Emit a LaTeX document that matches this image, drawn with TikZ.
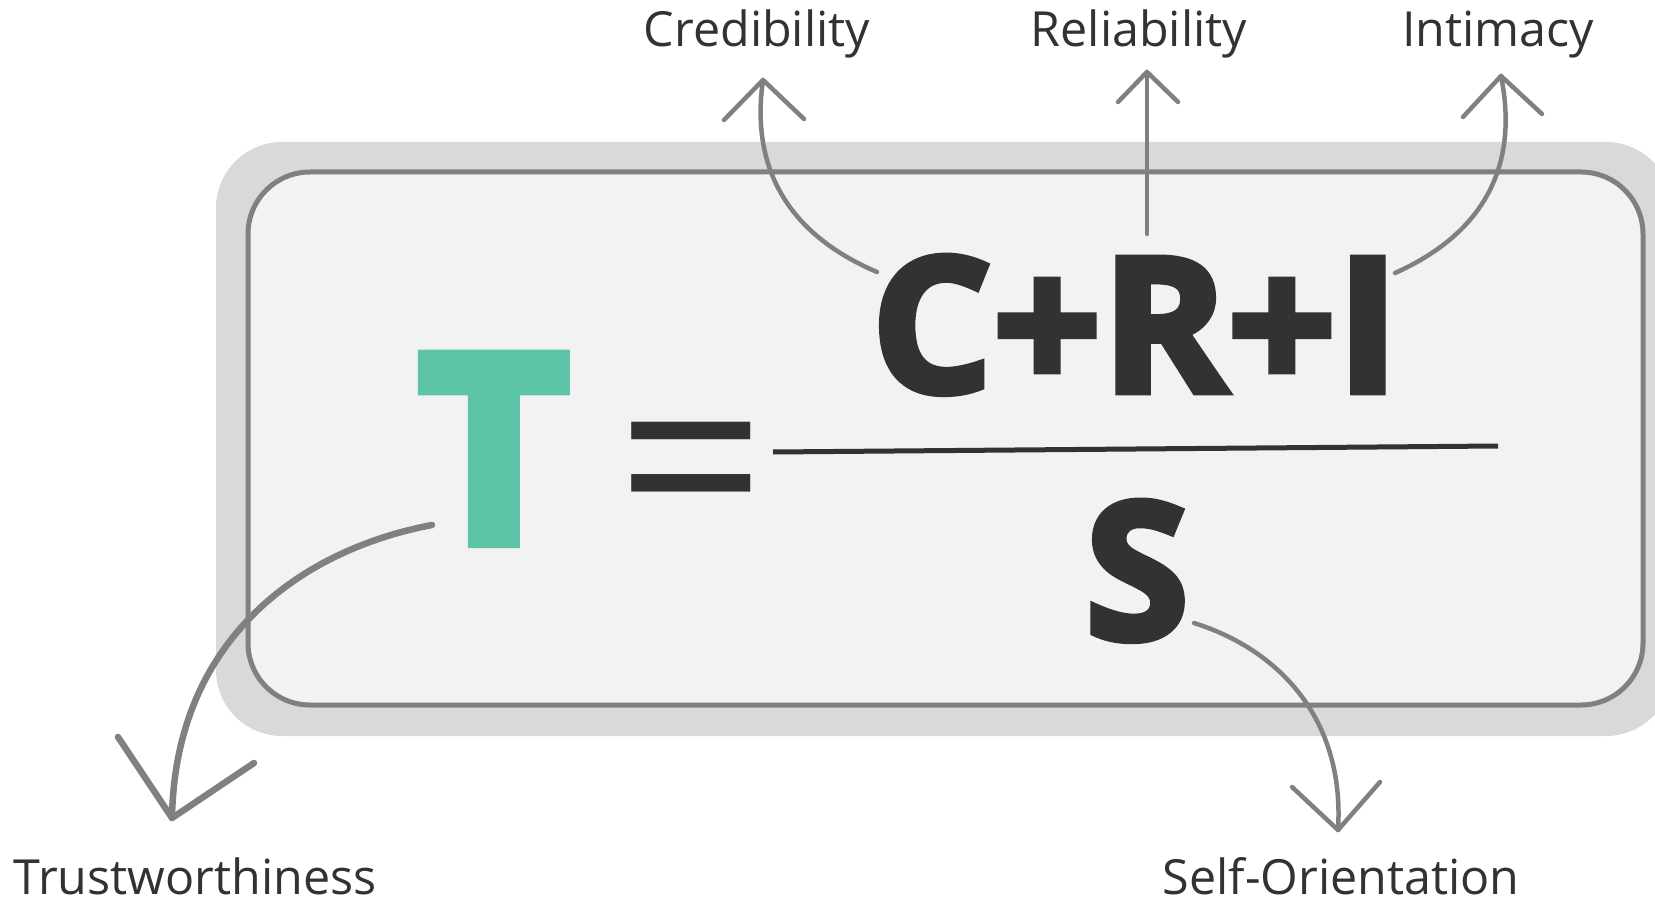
\documentclass[tikz,border=0pt]{standalone}
\usepackage{fontspec}
\setmainfont{Open Sans}
\newfontfamily\heavy{Open Sans}[BoldFeatures={FakeBold=3.5}]
\newfontfamily\heavier{Open Sans}[BoldFeatures={FakeBold=5}]
\usepackage{graphicx}
\definecolor{outergray}{HTML}{D9D9D9}
\definecolor{innerfill}{HTML}{F2F2F2}
\definecolor{linegray}{HTML}{808080}
\definecolor{darktext}{HTML}{333132}
\definecolor{tgreen}{HTML}{5EC4A7}
\begin{document}
\begin{tikzpicture}[x=1pt,y=-1pt,
  conn/.style={draw=linegray, line width=4.5pt, line cap=round, line join=round},
  lbl/.style={anchor=base, text=darktext, font=\fontsize{48.4}{58}\selectfont, inner sep=0pt, text depth=0pt},
  big/.style={inner sep=0pt, text=darktext}]
\useasboundingbox (0,0) rectangle (1655,904);
\begin{scope}
\clip (0,0) rectangle (1655,904);
\fill[outergray, rounded corners=66pt] (216,142) rectangle (1672,736);
\end{scope}
\draw[linegray, fill=innerfill, line width=5pt, rounded corners=62pt] (248,172) rectangle (1643,705);

% formula
\node[big, text=tgreen, anchor=base west] (tt) at (419,541.5) {\resizebox{149pt}{185pt}{\heavier\bfseries T}};
\node[big, anchor=base west] (eq) at (616,549) {\fontsize{262}{262}\selectfont =};
\node[big, anchor=base west] (num) at (871,392) {\resizebox{528pt}{136pt}{\heavy\bfseries C+R+I}};
\node[big, anchor=base] (den) at (1137,639) {\resizebox{104pt}{138pt}{\heavy\bfseries S}};
\coordinate (fl) at (773,452);
\coordinate (fr) at (1498,446);
\draw[darktext, line width=5pt] (fl) -- (fr);

% labels
\node[lbl] (cred) at (757,47) {Credibility};
\node[lbl] (reli) at (1139,47) {Reliability};
\node[lbl] (inti) at (1498,47) {Intimacy};
\node[lbl] (trust) at (195,894) {Trustworthiness};
\node[lbl] (self) at (1341,894) {Self-Orientation};

% connector end points
\coordinate (cS) at (877,272);  \coordinate (cT) at (763,80);
\coordinate (cA1) at (724,120); \coordinate (cA2) at (804,119);
\coordinate (rS) at (1147,234); \coordinate (rT) at (1147,72);
\coordinate (rA1) at (1118,102); \coordinate (rA2) at (1178,102);
\coordinate (iS) at (1395,273); \coordinate (iT) at (1501,76);
\coordinate (iA1) at (1463,117); \coordinate (iA2) at (1542,114);
\coordinate (tS) at (432,525);  \coordinate (tT) at (172,818);
\coordinate (tA1) at (118,737); \coordinate (tA2) at (254,763);
\coordinate (sS) at (1194,623); \coordinate (sT) at (1338,830);
\coordinate (sA1) at (1292,787); \coordinate (sA2) at (1380,782);

\draw[conn] (cS) .. controls (790,235) and (750,170) .. (cT);
\draw[conn] (cA1) -- (cT) -- (cA2);
\draw[conn] (rS) -- (rT);
\draw[conn] (rA1) -- (rT) -- (rA2);
\draw[conn] (iS) .. controls (1480,235) and (1520,170) .. (iT);
\draw[conn] (iA1) -- (iT) -- (iA2);
\draw[conn, line width=6.5pt] (tS) .. controls (300,550) and (175,640) .. (tT);
\draw[conn, line width=6.5pt] (tA1) -- (tT) -- (tA2);
\draw[conn] (sS) .. controls (1280,650) and (1345,720) .. (sT);
\draw[conn] (sA1) -- (sT) -- (sA2);
\end{tikzpicture}
\end{document}
